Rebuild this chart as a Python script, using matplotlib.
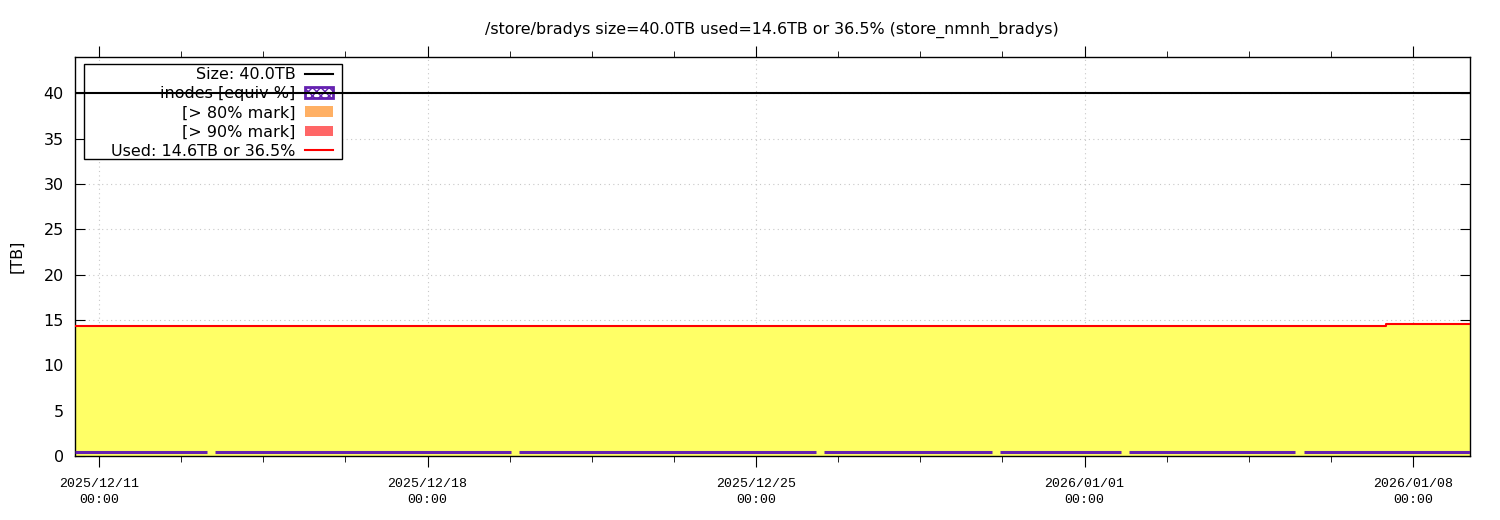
import numpy as np
import pandas as pd
import matplotlib
matplotlib.use('Agg')
from matplotlib import pyplot as plt
import matplotlib.dates as mdates
from matplotlib.patches import Patch, Rectangle
from matplotlib.lines import Line2D

# volume data
size_tb = 40.0
used_times = pd.to_datetime(['2025-12-10 11:43', '2026-01-07 10:00', '2026-01-09 05:05'])
used_tb = [14.3, 14.6, 14.6]

# inode usage (equiv TB), drawn as segments with gaps
inode_start = pd.to_datetime(['2025-12-10 11:43', '2025-12-13 11:14', '2025-12-19 22:58',
                              '2025-12-26 10:43', '2025-12-30 04:34', '2026-01-01 22:28',
                              '2026-01-05 16:20'])
inode_end = pd.to_datetime(['2025-12-13 07:09', '2025-12-19 18:53', '2025-12-26 06:38',
                            '2025-12-30 00:29', '2026-01-01 18:23', '2026-01-05 11:45',
                            '2026-01-09 05:05'])
inode_tb = [0.4, 0.4, 0.4, 0.4, 0.4, 0.4, 0.4]

title = '/store/bradys size=40.0TB used=14.6TB or 36.5% (store_nmnh_bradys)'
xmin = pd.Timestamp('2025-12-10 11:43')
xmax = pd.Timestamp('2026-01-09 05:05')

fig = plt.figure(figsize=(15, 5.2), dpi=100)
ax = fig.add_axes([75/1500, 64/520, 1395/1500, 399/520])

ax.fill_between(used_times, 0, used_tb, step='post', color='#ffff66', lw=0, zorder=1)
ax.step(used_times, used_tb, where='post', color='#ff0000', lw=1.5, zorder=3)
for s, e, v in zip(inode_start, inode_end, inode_tb):
    ax.plot([s, e], [v, v], color='#6420b0', lw=2.2, solid_capstyle='butt', zorder=3)
ax.axhline(size_tb, color='black', lw=1.5, zorder=3)

ax.set_ylim(0, 44)
ax.set_yticks(np.arange(0, 45, 5))
ax.tick_params(axis='y', direction='in', left=True, right=True, length=7, labelsize=11.5, pad=8)

major = pd.date_range('2025-12-11', periods=5, freq='7D')
minor = pd.date_range('2025-12-04', '2026-01-12', freq='42h')
ax.set_xticks(major)
ax.set_xticks(minor, minor=True)
ax.set_xlim(xmin, xmax)
ax.xaxis.set_major_formatter(mdates.DateFormatter('%Y/%m/%d\n%H:%M'))
ax.tick_params(axis='x', which='major', direction='out', top=True, bottom=True, length=8, pad=8)
ax.tick_params(axis='x', which='minor', direction='out', top=True, bottom=True, length=4)
for lbl in ax.get_xticklabels():
    lbl.set_family('Liberation Mono')
    lbl.set_fontsize(9.5)
    lbl.set_linespacing(1.4)

ax.set_axisbelow(True)
ax.grid(True, which='major', color='#c8c8c8', ls=(0, (1, 3)), lw=0.8)
for sp in ax.spines.values():
    sp.set_linewidth(1.0)

ax.set_ylabel('[TB]', fontsize=11.5, labelpad=14)
fig.text(772/1500, 1 - 30/520, title, ha='center', va='center', fontsize=11.4)

# legend box (wider than its content, like the original)
box = Rectangle((84/1500, 1 - 159/520), 258/1500, 95/520, transform=fig.transFigure,
                facecolor='white', edgecolor='black', lw=1.0, zorder=2.4)
ax.add_artist(box)
box.set_clip_on(False)

handles = [Line2D([], [], color='black', lw=1.5),
           Patch(facecolor='white', edgecolor='#6420b0', hatch='xxxx', lw=2.0),
           Patch(facecolor='#ffb064', edgecolor='none'),
           Patch(facecolor='#ff6666', edgecolor='none'),
           Line2D([], [], color='#ff0000', lw=1.5)]
labels = ['Size: 40.0TB', 'inodes [equiv %]', '[> 80% mark]', '[> 90% mark]',
          'Used: 14.6TB or 36.5%']
plt.rcParams['hatch.color'] = '#6420b0'
leg = ax.legend(handles, labels, loc='upper right', bbox_to_anchor=(333/1500, 1 - 67/520),
                bbox_transform=fig.transFigure, markerfirst=False, fontsize=11.5,
                frameon=False, borderpad=0.0, labelspacing=0.26, handlelength=1.75,
                handleheight=0.65, handletextpad=0.6, borderaxespad=0)
leg.set_zorder(2.5)

fig.savefig('out.png', dpi=100)
